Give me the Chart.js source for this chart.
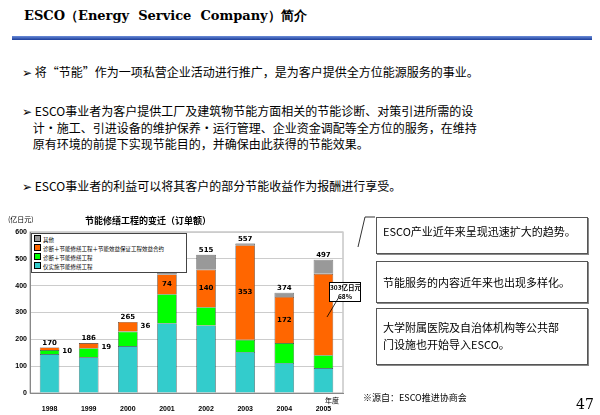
<!DOCTYPE html>
<html><head><meta charset="utf-8">
<script src="https://cdn.jsdelivr.net/npm/chart.js@4.4.0/dist/chart.umd.min.js"></script>
<style>
body{margin:0;width:600px;height:415px;background:#fff;font-family:"Noto Sans CJK SC","DejaVu Sans",sans-serif;position:relative;overflow:hidden;color:#000}
.abs{position:absolute;white-space:nowrap}
.box{position:absolute;border:1px solid #555;background:#fff;font-size:11px;padding:4px 6px;box-sizing:border-box;box-shadow:1px 1px 0 #888;white-space:nowrap}
</style></head><body>
<div class="abs" style="left:24px;top:7px;font-family:'DejaVu Serif',serif;font-size:13px;font-weight:bold">ESCO（Energy&nbsp; Service&nbsp; Company）简介</div>
<div class="abs" style="left:12px;top:36px;width:580px;height:4px;background:linear-gradient(#6a8cd8,#1b3d9a)"></div>
<div class="abs" style="left:22px;top:63px;font-size:12px">➢ 将“节能”作为一项私营企业活动进行推广，是为客户提供全方位能源服务的事业。</div>
<div class="abs" style="left:22px;top:103px;font-size:12px;line-height:16.5px">➢ ESCO事业者为客户提供工厂及建筑物节能方面相关的节能诊断、对策引进所需的设<br>&nbsp;&nbsp;&nbsp;&nbsp;计・施工、引进设备的维护保养・运行管理、企业资金调配等全方位的服务，在维持<br>&nbsp;&nbsp;&nbsp;&nbsp;原有环境的前提下实现节能目的，并确保由此获得的节能效果。</div>
<div class="abs" style="left:22px;top:177px;font-size:12px">➢ ESCO事业者的利益可以将其客户的部分节能收益作为报酬进行享受。</div>

<div class="abs" style="left:0;top:213px;width:360px;height:202px"><canvas id="c" width="360" height="202"></canvas></div>
<div class="abs" style="left:8px;top:214px;font-size:7px">(亿日元)</div>
<div class="abs" style="left:85px;top:214px;font-size:9px;font-weight:bold">节能修缮工程的变迁（订单额）</div>
<div class="abs" style="left:325px;top:395px;font-size:7px">年度</div>
<div class="abs" style="left:31px;top:233px;width:150px;border:1px solid #444;background:#fff;font-size:5.5px;line-height:7px;padding:1px 2px">
<div><span style="display:inline-block;width:5px;height:5px;background:#999;border:1px solid #000;margin-right:2px"></span>其他</div>
<div><span style="display:inline-block;width:5px;height:5px;background:#ff6600;border:1px solid #000;margin-right:2px"></span>诊断＋节能修缮工程＋节能效益保证工程效益合约</div>
<div><span style="display:inline-block;width:5px;height:5px;background:#00ff00;border:1px solid #000;margin-right:2px"></span>诊断＋节能修缮工程</div>
<div><span style="display:inline-block;width:5px;height:5px;background:#33cccc;border:1px solid #000;margin-right:2px"></span>仅实施节能修缮工程</div>
</div>
<div class="abs" style="left:329px;top:282px;width:30px;border:1px solid #000;background:#fff;font-size:6.5px;font-weight:bold;text-align:center;line-height:9px">303亿日元<br>68%</div>
<svg class="abs" style="left:325px;top:290px" width="20" height="30"><line x1="14" y1="7" x2="2" y2="27" stroke="#000" stroke-width="0.8"/></svg>
<svg class="abs" style="left:355px;top:215px" width="25" height="35"><line x1="20" y1="2" x2="10" y2="2" stroke="#333"/><line x1="10" y1="2" x2="3" y2="32" stroke="#333"/></svg>
<div class="box" style="left:376px;top:217px;width:212px;height:37px;padding-top:5px">ESCO产业近年来呈现迅速扩大的趋势。</div>
<div class="box" style="left:376px;top:261px;width:212px;height:42px;padding-top:12px">节能服务的内容近年来也出现多样化。</div>
<div class="box" style="left:376px;top:308px;width:212px;height:57px;padding-top:10px;line-height:17px">大学附属医院及自治体机构等公共部<br>门设施也开始导入ESCO。</div>
<div class="abs" style="left:363px;top:391px;font-size:9px">※源自：ESCO推进协商会</div>
<div class="abs" style="left:576px;top:396px;font-size:14px;font-family:'DejaVu Serif',serif">47</div>

<script>
const years=['1998','1999','2000','2001','2002','2003','2004','2005'];
const onlyRepair=[145,133,175,260,252,153,112,93];
const diagRepair=[15,34,54,108,68,45,74,48];
const diagRepairContract=[10,19,36,74,140,353,172,303];
const other=[0,0,0,7,55,6,16,53];
const totals=[170,186,265,449,515,557,374,497];
const innerLabelIdx=[3,4,5,6];
const sideLabelIdx=[0,1,2];

const labelPlugin={id:'lbl',afterDatasetsDraw(ch){
 const c=ch.ctx;c.save();c.font='bold 7px "DejaVu Sans"';c.fillStyle='#000';
 const mTop=ch.getDatasetMeta(3), mOr=ch.getDatasetMeta(2);
 years.forEach((y,i)=>{
  const b=mTop.data[i];c.textAlign='center';c.textBaseline='bottom';
  c.fillText(totals[i],b.x,ch.scales.y.getPixelForValue(totals[i])-1);
  const o=mOr.data[i];
  if(innerLabelIdx.includes(i)){c.textBaseline='middle';c.fillText(diagRepairContract[i],o.x,(o.y+o.base)/2);}
  if(sideLabelIdx.includes(i)){c.textAlign='left';c.textBaseline='middle';c.fillText(diagRepairContract[i],o.x+o.width/2+3,o.y+4);}
 });
 c.restore();}};
const ds=(l,d,col)=>({label:l,data:d,backgroundColor:col,borderColor:'#333',borderWidth:0.6,barPercentage:0.5,categoryPercentage:1});
new Chart(document.getElementById('c'),{type:'bar',
 data:{labels:years,datasets:[ds('仅实施节能修缮工程',onlyRepair,'#33cccc'),ds('诊断＋节能修缮工程',diagRepair,'#00ff00'),ds('诊断＋节能修缮工程＋节能效益保证工程效益合约',diagRepairContract,'#ff6600'),ds('其他',other,'#999999')]},
 options:{responsive:false,animation:false,layout:{padding:{top:19,right:17,left:0,bottom:0}},
  plugins:{legend:{display:false},tooltip:{enabled:false}},
  scales:{x:{stacked:true,grid:{display:false},border:{color:'#888'},ticks:{font:{size:7,weight:'bold'},color:'#000',padding:4},afterFit(s){s.height=22}},
   y:{stacked:true,min:0,max:600,ticks:{stepSize:100,font:{size:7,weight:'bold'},color:'#000'},grid:{color:'#ccc',drawTicks:false},border:{color:'#888'},afterFit(s){s.width=30}}}},
 plugins:[labelPlugin,{id:'frame',beforeDraw(ch){const a=ch.chartArea,c=ch.ctx;c.save();c.strokeStyle='#aaa';c.lineWidth=1;c.strokeRect(a.left,a.top,a.right-a.left,a.bottom-a.top);c.restore();}}]
});
</script></body></html>
